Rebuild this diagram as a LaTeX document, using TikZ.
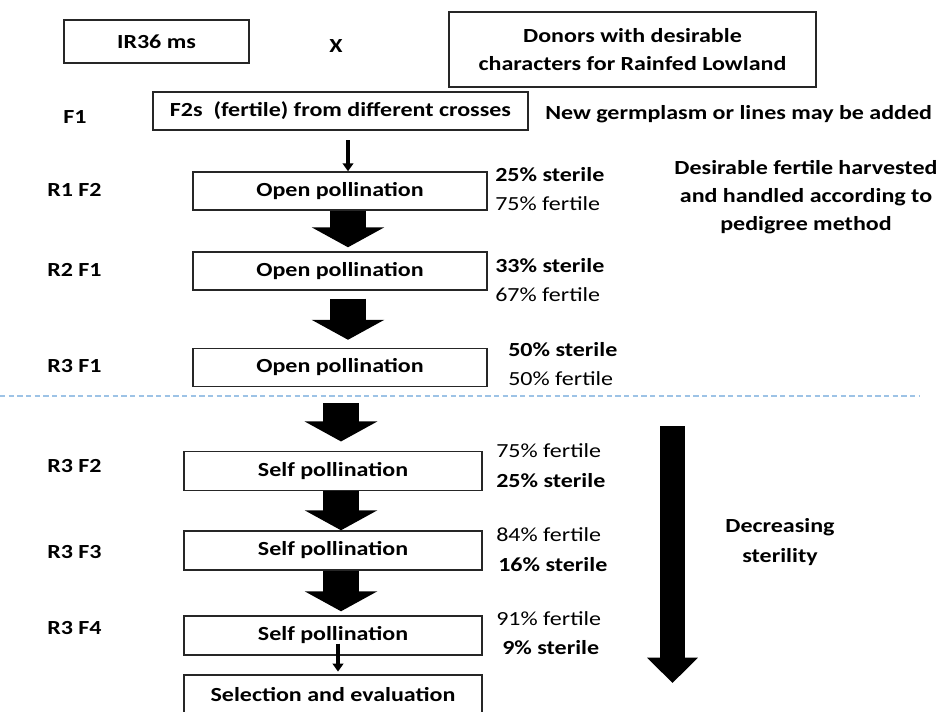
\documentclass[tikz,border=0pt]{standalone}
\usepackage{fontspec}
\setmainfont{Carlito}[FakeStretch=1.2]
\usetikzlibrary{arrows.meta}
\definecolor{sepblue}{RGB}{157,195,230}
\begin{document}
\begin{tikzpicture}[x=0.75pt,y=-0.75pt,
  every node/.style={font=\fontsize{15}{21}\selectfont\bfseries, inner sep=0pt},
  boxn/.style={draw=black!85, line width=1.1pt, fill=white, align=center},
  openbox/.style={boxn, minimum width=220.5pt, minimum height=28.5pt},
  selfbox/.style={boxn, minimum width=223.5pt, minimum height=29.25pt},
  gen/.style={anchor=west},
  pct/.style={anchor=west},
  pctreg/.style={anchor=west, font=\fontsize{15}{21}\selectfont},
  fat/.style={line width=26.5pt, black, -{Triangle[width=54pt,length=15pt]}},
  slim/.style={line width=3pt, black, -{Triangle[width=8pt,length=6pt]}}]
\clip (0,0) rectangle (941,711);
\fill[white] (0,0) rectangle (941,711);

% parents of the cross
\node[boxn, minimum width=138.75pt, minimum height=32.25pt] (ir) at (156.5,41.5) {IR36 ms};
\node (cross) at (336,46) {X};
\node[boxn, minimum width=275.25pt, minimum height=56.25pt] (don) at (632.5,49.5)
  {Donors with desirable\\characters for Rainfed Lowland};

% F1 row
\node[gen] (gF1) at (63,117) {F1};
\node[boxn, minimum width=281.25pt, minimum height=28.5pt] (f2s) at (340.5,111)
  {F2s\ \ (fertile) from different crosses};
\node[anchor=west] (germ) at (545,114) {New germplasm or lines may be added};

% open pollination cycles
\node[gen] (gR1) at (47,190) {R1 F2};
\node[gen] (gR2) at (47,270) {R2 F1};
\node[gen] (gR3) at (47,366) {R3 F1};
\node[openbox] (o1) at (340,191) {Open pollination};
\node[openbox] (o2) at (340,271) {Open pollination};
\node[openbox] (o3) at (340,367.5) {Open pollination};

\node[pct] (p1a) at (495,175) {25\% sterile};
\node[pctreg] (p1b) at (495,204) {75\% fertile};
\node[pct] (p2a) at (495,266) {33\% sterile};
\node[pctreg] (p2b) at (495,295) {67\% fertile};
\node[pct] (p3a) at (508,350) {50\% sterile};
\node[pctreg] (p3b) at (508,379) {50\% fertile};

\node[align=center] (ped) at (806,197)
  {Desirable fertile harvested\\and handled according to\\pedigree method};

% separator
\draw[sepblue, line width=1.5pt, dash pattern=on 4pt off 2.5pt] (0,396) coordinate (sepL) -- (920,396) coordinate (sepR);

% self pollination generations
\node[gen] (gS2) at (47,466) {R3 F2};
\node[gen] (gS3) at (47,552) {R3 F3};
\node[gen] (gS4) at (47,628) {R3 F4};
\node[selfbox] (s1) at (333,471) {Self pollination};
\node[selfbox] (s2) at (333,550.5) {Self pollination};
\node[selfbox] (s3) at (333,635.5) {Self pollination};
\node[selfbox] (sel) at (333,694.5) {Selection and evaluation};

\node[pctreg] (q1a) at (496,451) {75\% fertile};
\node[pct] (q1b) at (496,481) {25\% sterile};
\node[pctreg] (q2a) at (496,535) {84\% fertile};
\node[pct] (q2b) at (498,565) {16\% sterile};
\node[pctreg] (q3a) at (496,619) {91\% fertile};
\node[pct] (q3b) at (502,648) {9\% sterile};

\node[align=center, font=\fontsize{15}{22.5}\selectfont\bfseries] (dec) at (780,542) {Decreasing\\sterility};

% connectors
\coordinate (ax) at (348,0);
\coordinate (bx) at (341,0);
\draw[slim, shorten <=7pt] (f2s.south -| ax) -- (o1.north -| ax);
\draw[fat, shorten >=3pt] (o1.south -| ax) -- (o2.north -| ax);
\draw[fat, shorten <=6pt, shorten >=6pt] (o2.south -| ax) -- (o3.north -| ax);
\draw[fat, shorten <=12pt, shorten >=7pt] (o3.south -| bx) -- (s1.north -| bx);
\draw[fat] (s1.south -| bx) -- (s2.north -| bx);
\draw[fat, shorten >=3pt] (s2.south -| bx) -- (s3.north -| bx);
\coordinate (cx) at (338,0);
\draw[slim, shorten <=-9pt, shorten >=2pt] (s3.south -| cx) -- (sel.north -| cx);

% trend arrow
\coordinate (dtop) at (672.5,426);
\coordinate (dbot) at (672.5,683);
\draw[line width=19pt, black, -{Triangle[width=37pt,length=19pt]}] (dtop) -- (dbot);
\end{tikzpicture}
\end{document}
